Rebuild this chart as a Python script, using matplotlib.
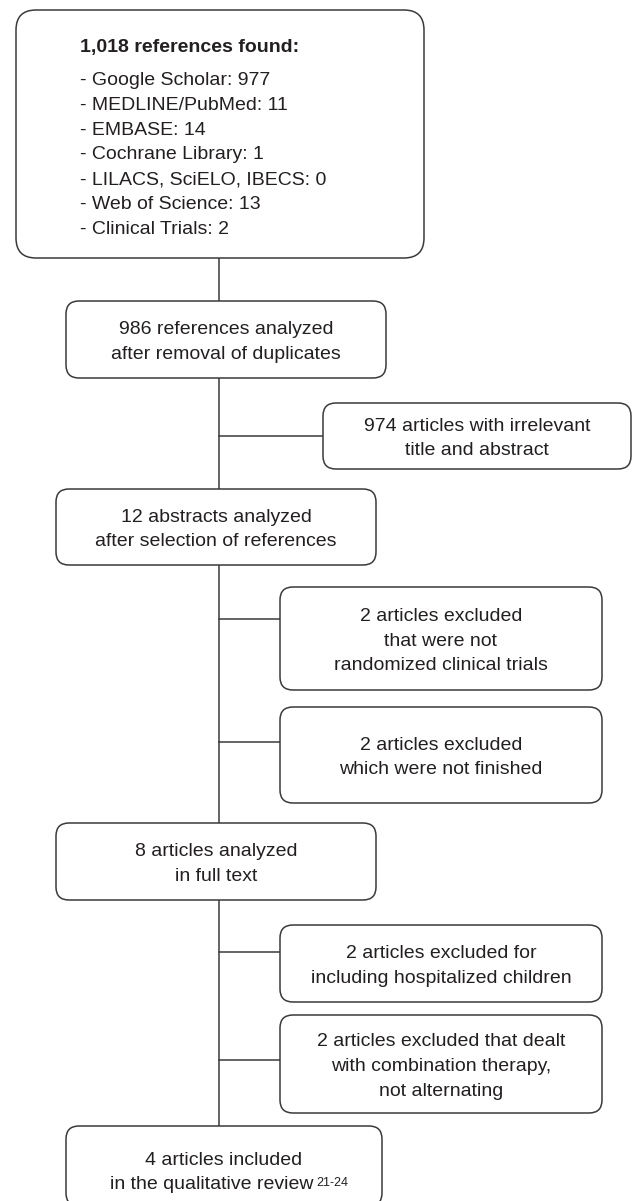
import matplotlib.pyplot as plt
from matplotlib.patches import FancyBboxPatch

plt.rcParams['font.family'] = ['Liberation Sans', 'DejaVu Sans']
INK, LINE = "#231f20", "#3a3a3a"
FS = 14.0

# flowchart contents
title = "1,018 references found:"
sources = ["Google Scholar: 977", "MEDLINE/PubMed: 11", "EMBASE: 14", "Cochrane Library: 1",
           "LILACS, SciELO, IBECS: 0", "Web of Science: 13", "Clinical Trials: 2"]
main_steps = [["986 references analyzed", "after removal of duplicates"],
              ["12 abstracts analyzed", "after selection of references"],
              ["8 articles analyzed", "in full text"],
              ["4 articles included", "in the qualitative review"]]
exclusions = [["974 articles with irrelevant", "title and abstract"],
              ["2 articles excluded", "that were not", "randomized clinical trials"],
              ["2 articles excluded", "which were not finished"],
              ["2 articles excluded for", "including hospitalized children"],
              ["2 articles excluded that dealt", "with combination therapy,", "not alternating"]]
cite = "21-24"

# layout in pixels (x0, x1, y0, y1), y downwards
W, H = 632, 1201
SPINE_X = 219
top_box = (16, 424, 10, 258)
main_boxes = [(66, 386, 301, 378), (56, 376, 489, 565), (56, 376, 823, 900), (66, 382, 1126, 1206)]
excl_boxes = [(323, 631, 403, 469), (280, 602, 587, 690), (280, 602, 707, 803),
              (280, 602, 925, 1002), (280, 602, 1015, 1113)]
branch_y = [436, 619, 742, 952, 1060]
PITCH = 24.8

fig = plt.figure(figsize=(W/100, H/100), dpi=100)
ax = fig.add_axes([0, 0, 1, 1])
ax.set_xlim(0, W); ax.set_ylim(H, 0); ax.axis("off")

def box(b, r=13):
    x0, x1, y0, y1 = b
    ax.add_patch(FancyBboxPatch((x0, y0), x1-x0, y1-y0, boxstyle=f"round,pad=0,rounding_size={r}",
                                fc="white", ec=LINE, lw=1.1, zorder=2))

def lines_in(b, rows):
    x0, x1, y0, y1 = b
    cx = (x0+x1)/2
    cy = (y0+y1)/2 if y1 <= H else y0 + 44
    out = []
    for i, s in enumerate(rows):
        yb = cy - (len(rows)-1)/2*PITCH + i*PITCH + 7
        out.append(ax.text(cx, yb, s, ha="center", va="baseline", fontsize=FS, color=INK, zorder=3))
    return out

# spine and side branches
ax.plot([SPINE_X, SPINE_X], [top_box[3], main_boxes[-1][2]], color=LINE, lw=1.1, zorder=1)
for b, yc in zip(excl_boxes, branch_y):
    ax.plot([SPINE_X, b[0]], [yc, yc], color=LINE, lw=1.1, zorder=1)

# top box
box(top_box, r=20)
ax.text(80, 52, title, ha="left", va="baseline", fontsize=FS, weight="bold", color=INK, zorder=3)
for i, s in enumerate(sources):
    ax.text(80, 78 + PITCH*i + 7, "- " + s, ha="left", va="baseline", fontsize=FS, color=INK, zorder=3)

for b, rows in zip(main_boxes, main_steps):
    box(b)
    t = lines_in(b, rows)
for b, rows in zip(excl_boxes, exclusions):
    box(b)
    lines_in(b, rows)

# shift the last line so that text + superscript stays centred
last = t[-1]
last.set_x(last.get_position()[0] - 12)
ax.annotate(cite, xy=(1, 0), xycoords=last, xytext=(2, 5), textcoords="offset points",
            fontsize=9, color=INK, va="baseline", ha="left", zorder=3)

fig.savefig("out.png", dpi=100, facecolor="white")
